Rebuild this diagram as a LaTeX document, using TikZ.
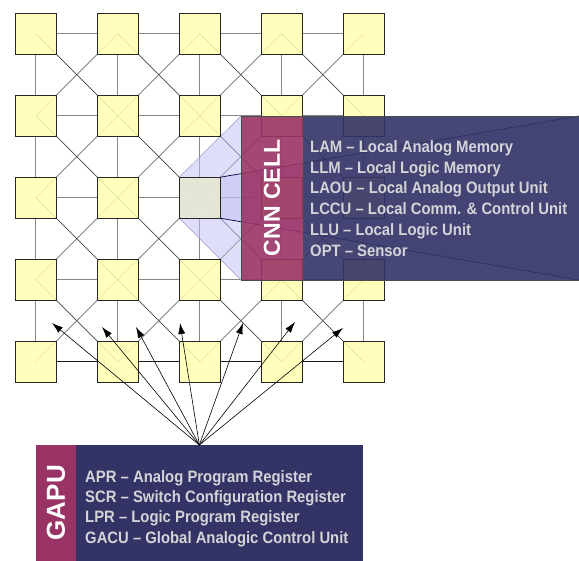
\documentclass[tikz,border=0pt]{standalone}
\usepackage{fontspec}
\setmainfont{Liberation Sans}
\newfontfamily\listfont{Liberation Sans}[FakeStretch=0.9]
\usetikzlibrary{arrows.meta}
\definecolor{cellyellow}{HTML}{FFFFB0}
\definecolor{cellgray}{HTML}{E4E4DA}
\definecolor{wine}{HTML}{993366}
\definecolor{navy}{HTML}{333366}
\definecolor{facecol}{RGB}{190,190,245}
\definecolor{textgray}{HTML}{D4D4D8}
\pgfdeclarelayer{back}
\pgfdeclarelayer{front}
\pgfsetlayers{back,main,front}
\begin{document}
\begin{tikzpicture}[x=1pt,y=-1pt,
  cell/.style={draw=black!85, line width=0.9pt, fill=cellyellow, fill opacity=0.86,
    minimum size=41pt, inner sep=0pt, outer sep=0pt},
  hotcell/.style={cell, fill=cellgray, fill opacity=0.9},
  hv/.style={draw=black!47, line width=1.2pt},
  hvlow/.style={draw=black!90, line width=0.8pt},
  diag/.style={draw=black!72, line width=0.7pt},
  face/.style={fill=facecol, fill opacity=0.5},
  faceedge/.style={draw=black!40!blue!40, line width=0.5pt},
  persp/.style={draw=black!75!blue, line width=0.7pt},
  block/.style={inner sep=0pt, outer sep=0pt, draw=black!70, line width=0.6pt},
  title/.style={text=white, font=\bfseries, inner sep=0pt},
  item/.style={text=textgray, font=\listfont\bfseries\fontsize{16.5}{20}\selectfont,
    anchor=base west, inner sep=0pt},
  ray/.style={draw=black, line width=0.6pt, -{Latex[length=11pt,width=7pt]}}
]
\useasboundingbox (0,0) rectangle (579,561);

% 5x5 array of cells
\foreach \r in {0,...,4}
  \foreach \c in {0,...,4}
    \node[cell] (s\r\c) at ({35.8+82*\c},{33.7+82*\r}) {};
\node[hotcell] at (s22.center) {};

% CNN cell block and GAPU block
\begin{pgfonlayer}{front}
  \node[block, fill=wine, fill opacity=0.9, minimum width=62pt, minimum height=164pt]
    (cnntag) at (272,198) {};
  \node[block, fill=navy, fill opacity=0.9, minimum width=276pt, minimum height=164pt]
    (cnnlist) at (441,198) {};
  \node[title, rotate=90, font=\bfseries\fontsize{23}{26}\selectfont] (cnntitle) at (cnntag.center) {CNN CELL};
  \node[item] (lam)  at (310,152.3) {LAM – Local Analog Memory};
  \node[item] (llm)  at (310,173.1) {LLM – Local Logic Memory};
  \node[item] (laou) at (310,193.9) {LAOU – Local Analog Output Unit};
  \node[item] (lccu) at (310,214.7) {LCCU – Local Comm. \& Control Unit};
  \node[item] (llu)  at (310,235.5) {LLU – Local Logic Unit};
  \node[item] (opt)  at (310,256.3) {OPT – Sensor};

  \node[block, draw=none, fill=navy, minimum width=327.3pt, minimum height=115.5pt]
    (gapu) at (199.35,502.75) {};
  \node[block, draw=none, fill=wine, minimum width=40.3pt, minimum height=115.5pt]
    (gaputag) at (55.85,502.75) {};
  \node[title, rotate=90, font=\bfseries\fontsize{26}{28}\selectfont] (gaputitle) at (gaputag.center) {GAPU};
  \node[item] (apr)  at (85,482.3) {APR – Analog Program Register};
  \node[item] (scr)  at (85,502.6) {SCR – Switch Configuration Register};
  \node[item] (lpr)  at (85,522.9) {LPR – Logic Program Register};
  \node[item] (gacu) at (85,543.2) {GACU – Global Analogic Control Unit};

  % control rays from the GAPU into the array
  \foreach \x/\y [count=\k] in {52/323, 102/327, 136/327, 180/323, 243/323, 295/322, 343/328}
    \coordinate (t\k) at (\x,\y);
  \foreach \k in {1,...,7}
    \draw[ray] (gapu.north) -- (t\k);
\end{pgfonlayer}

% links between cells
\begin{pgfonlayer}{back}
  \foreach \r/\rr in {0/1,1/2,2/3,3/4}
    \foreach \c/\cc in {0/1,1/2,2/3,3/4} {
      \draw[diag] (s\r\c.center) -- (s\rr\cc.center);
      \draw[diag] (s\r\cc.center) -- (s\rr\c.center);
    }
  \foreach \r in {0,1,2,3}
    \foreach \c/\cc in {0/1,1/2,2/3,3/4}
      \draw[hv] (s\r\c) -- (s\r\cc);
  \foreach \c/\cc in {0/1,1/2,2/3,3/4}
    \draw[hvlow] (s4\c) -- (s4\cc);
  \foreach \r/\rr in {0/1,1/2,2/3,3/4}
    \foreach \c in {0,...,4}
      \draw[hv] (s\r\c) -- (s\rr\c);

  % magnified view of the central cell
  \fill[face] (s22.north west) -- (cnntag.north west) -- (cnntag.south west) -- (s22.south west) -- cycle;
  \fill[face] (s22.north east) -- (cnnlist.north east) -- (cnnlist.south east) -- (s22.south east) -- cycle;
  \draw[faceedge] (s22.north west) -- (cnntag.north west);
  \draw[faceedge] (s22.south west) -- (cnntag.south west);
  \draw[persp] (s22.north east) -- (cnnlist.north east);
  \draw[persp] (s22.south east) -- (cnnlist.south east);
\end{pgfonlayer}
\end{tikzpicture}
\end{document}
